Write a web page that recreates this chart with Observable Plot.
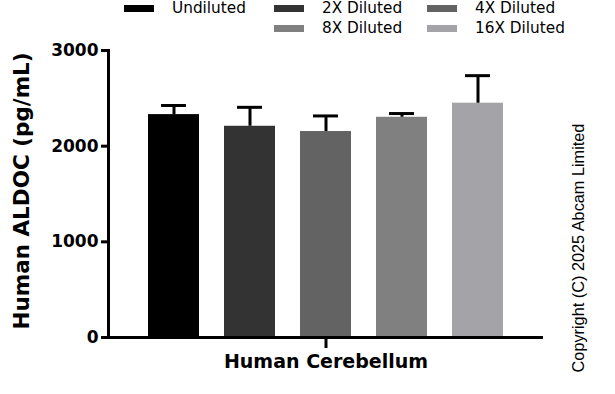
<!DOCTYPE html>
<html>
<head>
<meta charset="utf-8">
<script src="https://cdn.jsdelivr.net/npm/d3@7"></script>
<script src="https://cdn.jsdelivr.net/npm/@observablehq/plot@0.6"></script>
<style>
  html, body { margin: 0; padding: 0; background: #fff; }
  #wrap { position: relative; width: 615px; height: 394px; overflow: hidden; }
  .leg { position: absolute; font-family: "DejaVu Sans", sans-serif; font-size: 15.3px; color: #000; display: flex; align-items: center; white-space: nowrap; height: 16px; }
  .sw { width: 30px; height: 7px; margin-right: 18px; }
  #copy { position: absolute; left: 578px; top: 248px; transform: translate(-50%, -50%) rotate(-90deg); font-family: "Liberation Sans", Arial, sans-serif; font-size: 16.3px; white-space: nowrap; }
</style>
</head>
<body>
<div id="wrap"></div>
<script>
const groups = ["Human Cerebellum"];
const series = ["Undiluted", "2X Diluted", "4X Diluted", "8X Diluted", "16X Diluted"];
const means = [2330, 2208, 2153, 2302, 2449];
const errors = [95, 198, 163, 39, 288];
const colors = ["#000000", "#333333", "#636363", "#808080", "#a4a3a7"];
const yTicks = [0, 1000, 2000, 3000];
const yLabel = "Human ALDOC (pg/mL)";
const copyright = "Copyright (C) 2025 Abcam Limited";

const data = series.map((s, i) => ({group: groups[0], series: s, mean: means[i], top: means[i] + errors[i]}));

const chart = Plot.plot({
  width: 615,
  height: 394,
  marginTop: 50,
  marginBottom: 57,
  marginLeft: 108,
  marginRight: 72,
  style: {fontFamily: "DejaVu Sans, sans-serif", background: "#fff"},
  fx: {domain: groups, padding: 0, label: null, axis: null},
  x: {domain: series, axis: null, paddingInner: 0.33, paddingOuter: 0.513},
  y: {domain: [0, 3000], axis: null},
  color: {domain: series, range: colors},
  marks: [
    Plot.barY(data, {fx: "group", x: "series", y: "mean", fill: "series"}),
    Plot.ruleX(data, {fx: "group", x: "series", y1: "mean", y2: "top", stroke: "#000", strokeWidth: 3}),
    Plot.tickY(data, {fx: "group", x: "series", y: "top", stroke: "#000", strokeWidth: 3, insetLeft: 13, insetRight: 13}),
    Plot.ruleY([0], {stroke: "#000", strokeWidth: 3}),
    Plot.axisY({ticks: yTicks, tickFormat: d => String(d), tickSize: 7, strokeWidth: 3, tickPadding: 3,
      fontSize: 17, fontWeight: "bold", label: null}),
    Plot.frame({anchor: "left", stroke: "#000", strokeWidth: 3}),
    Plot.axisFx({anchor: "bottom", tickSize: 11, strokeWidth: 3, tickPadding: 6, fontSize: 19, fontWeight: "bold", label: null}),
    Plot.text([yLabel], {frameAnchor: "left", textAnchor: "middle", rotate: -90, dx: -86, dy: -3, fontSize: 21.5, fontWeight: "bold", text: d => d, facet: "super"})
  ]
});

const wrap = document.getElementById("wrap");
wrap.appendChild(chart);

const legendPos = [
  {left: 124, top: 0},
  {left: 274, top: 0},
  {left: 427, top: 0},
  {left: 274, top: 20},
  {left: 427, top: 20}
];
series.forEach((s, i) => {
  const d = document.createElement("div");
  d.className = "leg";
  d.style.left = legendPos[i].left + "px";
  d.style.top = legendPos[i].top + "px";
  d.innerHTML = `<span class="sw" style="background:${colors[i]}"></span><span>${s}</span>`;
  wrap.appendChild(d);
});
const c = document.createElement("div");
c.id = "copy";
c.textContent = copyright;
wrap.appendChild(c);
</script>
</body>
</html>
